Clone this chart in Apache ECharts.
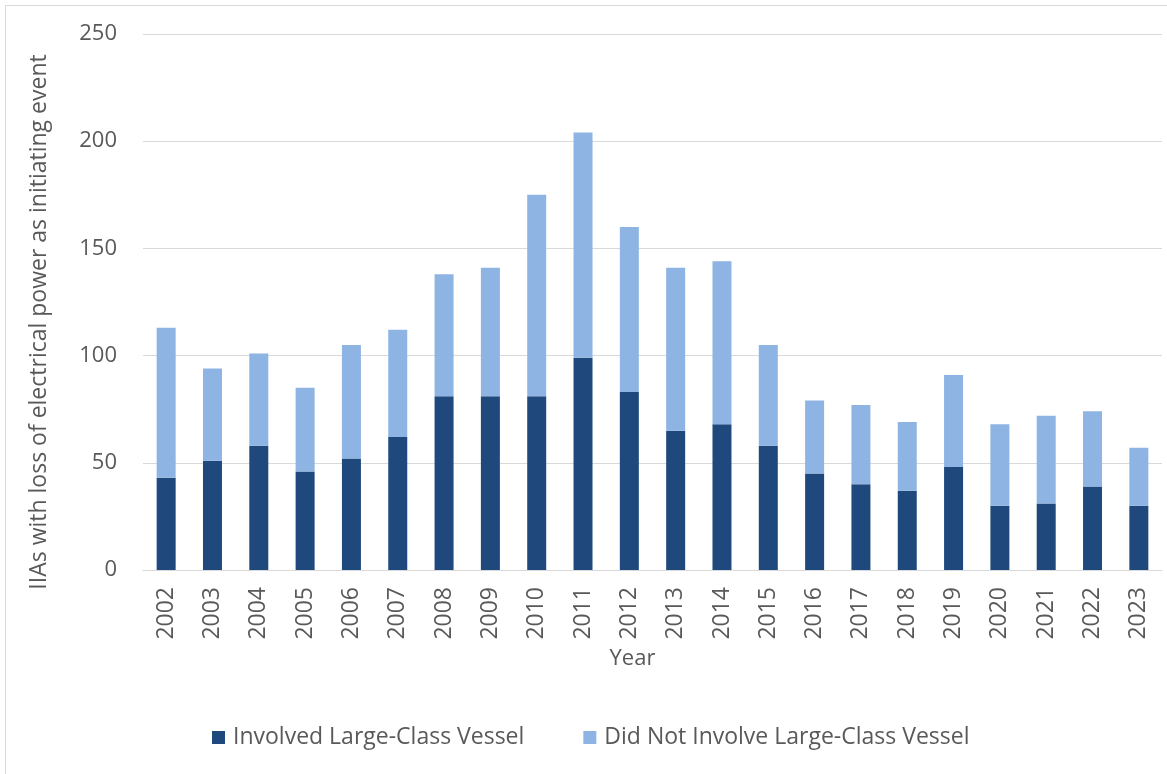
<!DOCTYPE html>
<html>
<head>
<meta charset="utf-8">
<script src="https://cdn.jsdelivr.net/npm/echarts@6/dist/echarts.min.js"></script>
<style>
  html, body { margin: 0; padding: 0; background: #fff; }
  #chart { width: 1167px; height: 774px; }
</style>
</head>
<body>
<div id="chart"></div>
<script>
// Years on the category axis
const years = ['2002','2003','2004','2005','2006','2007','2008','2009','2010','2011','2012',
               '2013','2014','2015','2016','2017','2018','2019','2020','2021','2022','2023'];
// Incidents that involved a large-class vessel (bottom segment)
const involvedLarge = [43, 51, 58, 46, 52, 62, 81, 81, 81, 99, 83, 65, 68, 58, 45, 40, 37, 48, 30, 31, 39, 30];
// Incidents that did not involve a large-class vessel (stacked on top)
const notInvolvedLarge = [70, 43, 43, 39, 53, 50, 57, 60, 94, 105, 77, 76, 76, 47, 34, 37, 32, 43, 38, 41, 35, 27];
// Value-axis tick range
const yTicks = { min: 0, max: 250, interval: 50 };

const FONT = '"Open Sans", "Noto Sans", sans-serif';
const TEXT = '#595959';

const chart = echarts.init(document.getElementById('chart'), null, { renderer: 'canvas' });
chart.setOption({
  backgroundColor: '#ffffff',
  animation: false,
  textStyle: { fontFamily: FONT, color: TEXT },
  graphic: [{
    type: 'rect',
    shape: { x: 5.5, y: 5.5, width: 1170, height: 780 },
    style: { fill: 'none', stroke: '#d9d9d9', lineWidth: 1 },
    silent: true
  }],
  grid: { left: 143, right: 5, top: 34, bottom: 204, containLabel: false },
  legend: {
    bottom: 25,
    left: 212,
    padding: 0,
    itemWidth: 13,
    itemHeight: 13,
    itemGap: 59,
    icon: 'rect',
    textStyle: { fontFamily: FONT, fontSize: 23, color: TEXT, padding: [0, 0, 0, 3] },
    data: ['Involved Large-Class Vessel', 'Did Not Involve Large-Class Vessel']
  },
  xAxis: {
    type: 'category',
    data: years,
    name: 'Year',
    nameLocation: 'middle',
    nameGap: 78,
    nameTextStyle: { fontFamily: FONT, fontSize: 22, color: TEXT, padding: [0, 40, 0, 0] },
    axisLine: { lineStyle: { color: '#d9d9d9', width: 1 } },
    axisTick: { show: false },
    axisLabel: { rotate: 90, fontFamily: FONT, fontSize: 23, color: TEXT, margin: 17, interval: 0 }
  },
  yAxis: {
    type: 'value',
    min: yTicks.min,
    max: yTicks.max,
    interval: yTicks.interval,
    name: 'IIAs with loss of electrical power as initiating event',
    nameLocation: 'middle',
    nameGap: 92,
    nameTextStyle: { fontFamily: FONT, fontSize: 23, color: TEXT, padding: [0, 40, 0, 0] },
    axisLine: { show: false },
    axisTick: { show: false },
    axisLabel: { fontFamily: FONT, fontSize: 22, color: TEXT, margin: 26 },
    splitLine: { lineStyle: { color: '#d9d9d9', width: 1 } }
  },
  series: [
    {
      name: 'Involved Large-Class Vessel',
      type: 'bar',
      stack: 'total',
      data: involvedLarge,
      barWidth: 19,
      itemStyle: { color: '#1f497d' }
    },
    {
      name: 'Did Not Involve Large-Class Vessel',
      type: 'bar',
      stack: 'total',
      data: notInvolvedLarge,
      barWidth: 19,
      itemStyle: { color: '#8eb4e3' }
    }
  ]
});
</script>
</body>
</html>
